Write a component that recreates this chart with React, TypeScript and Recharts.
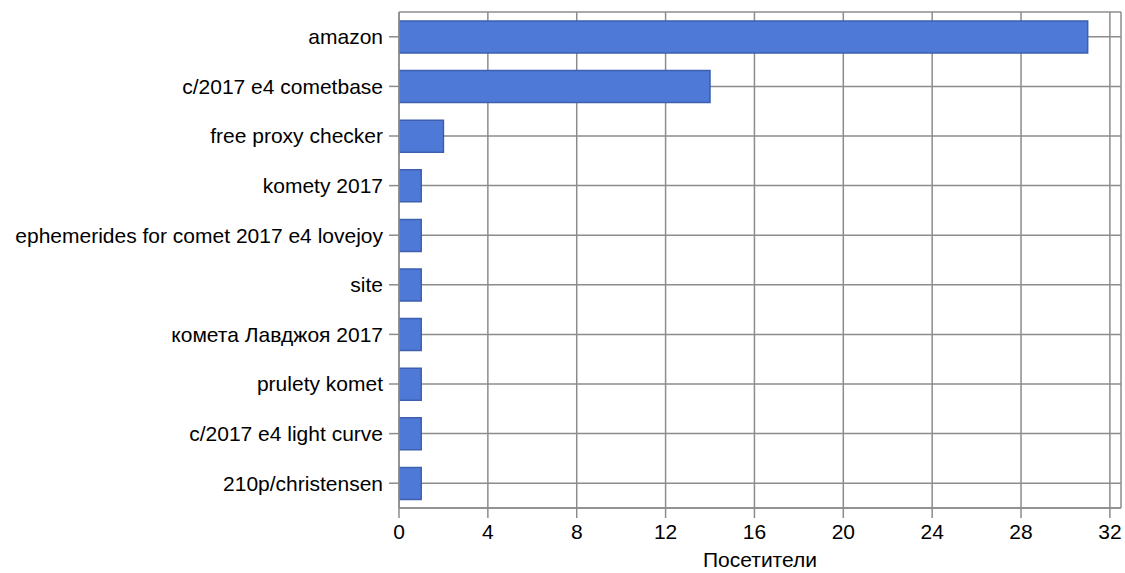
import {
  Bar,
  BarChart,
  CartesianGrid,
  XAxis,
  YAxis,
} from "recharts"

const queries = [
  "amazon",
  "c/2017 e4 cometbase",
  "free proxy checker",
  "komety 2017",
  "ephemerides for comet 2017 e4 lovejoy",
  "site",
  "комета Лавджоя 2017",
  "prulety komet",
  "c/2017 e4 light curve",
  "210p/christensen",
]

const visitors = [31, 14, 2, 1, 1, 1, 1, 1, 1, 1]

const xTicks = [0, 4, 8, 12, 16, 20, 24, 28, 32]

const data = queries.map((q, i) => ({ query: q, visitors: visitors[i] }))

const grid = "#8c8c8c"
const font = "'Liberation Sans', Arial, sans-serif"

export default function App() {
  return (
    <div
      style={{
        position: "absolute",
        left: 0,
        top: 0,
        width: 1125,
        height: 573,
        background: "#fff",
      }}
    >
      <BarChart
        width={1125}
        height={573}
        data={data}
        layout="vertical"
        margin={{ top: 12, right: 4, bottom: 0, left: 0 }}
        barSize={32}
      >
        <CartesianGrid
          stroke={grid}
          strokeWidth={1.5}
          horizontal
          vertical
        />

        <XAxis
          type="number"
          domain={[0, 32.5]}
          ticks={xTicks}
          allowDataOverflow
          height={65}
          stroke={grid}
          strokeWidth={1.5}
          tickSize={10}
          tick={{ fill: "#000", fontSize: 21, fontFamily: font }}
          tickMargin={6}
          label={{
            value: "Посетители",
            position: "insideBottom",
            offset: 6,
            fill: "#000",
            fontSize: 21,
            fontFamily: font,
          }}
        />

        <XAxis
          xAxisId="top"
          orientation="top"
          type="number"
          domain={[0, 32.5]}
          height={0}
          tick={false}
          tickLine={false}
          stroke={grid}
          strokeWidth={1.5}
        />

        <YAxis
          type="category"
          dataKey="query"
          width={399}
          stroke={grid}
          strokeWidth={1.5}
          tickSize={10}
          tickMargin={6}
          interval={0}
          tick={{ fill: "#000", fontSize: 21, fontFamily: font }}
        />

        <YAxis
          yAxisId="right"
          orientation="right"
          type="category"
          dataKey="query"
          width={0}
          tick={false}
          tickLine={false}
          stroke={grid}
          strokeWidth={1.5}
        />

        <Bar
          dataKey="visitors"
          fill="#4e79d7"
          stroke="#3d5fae"
          strokeWidth={1.5}
          isAnimationActive={false}
        />
      </BarChart>
    </div>
  )
}
